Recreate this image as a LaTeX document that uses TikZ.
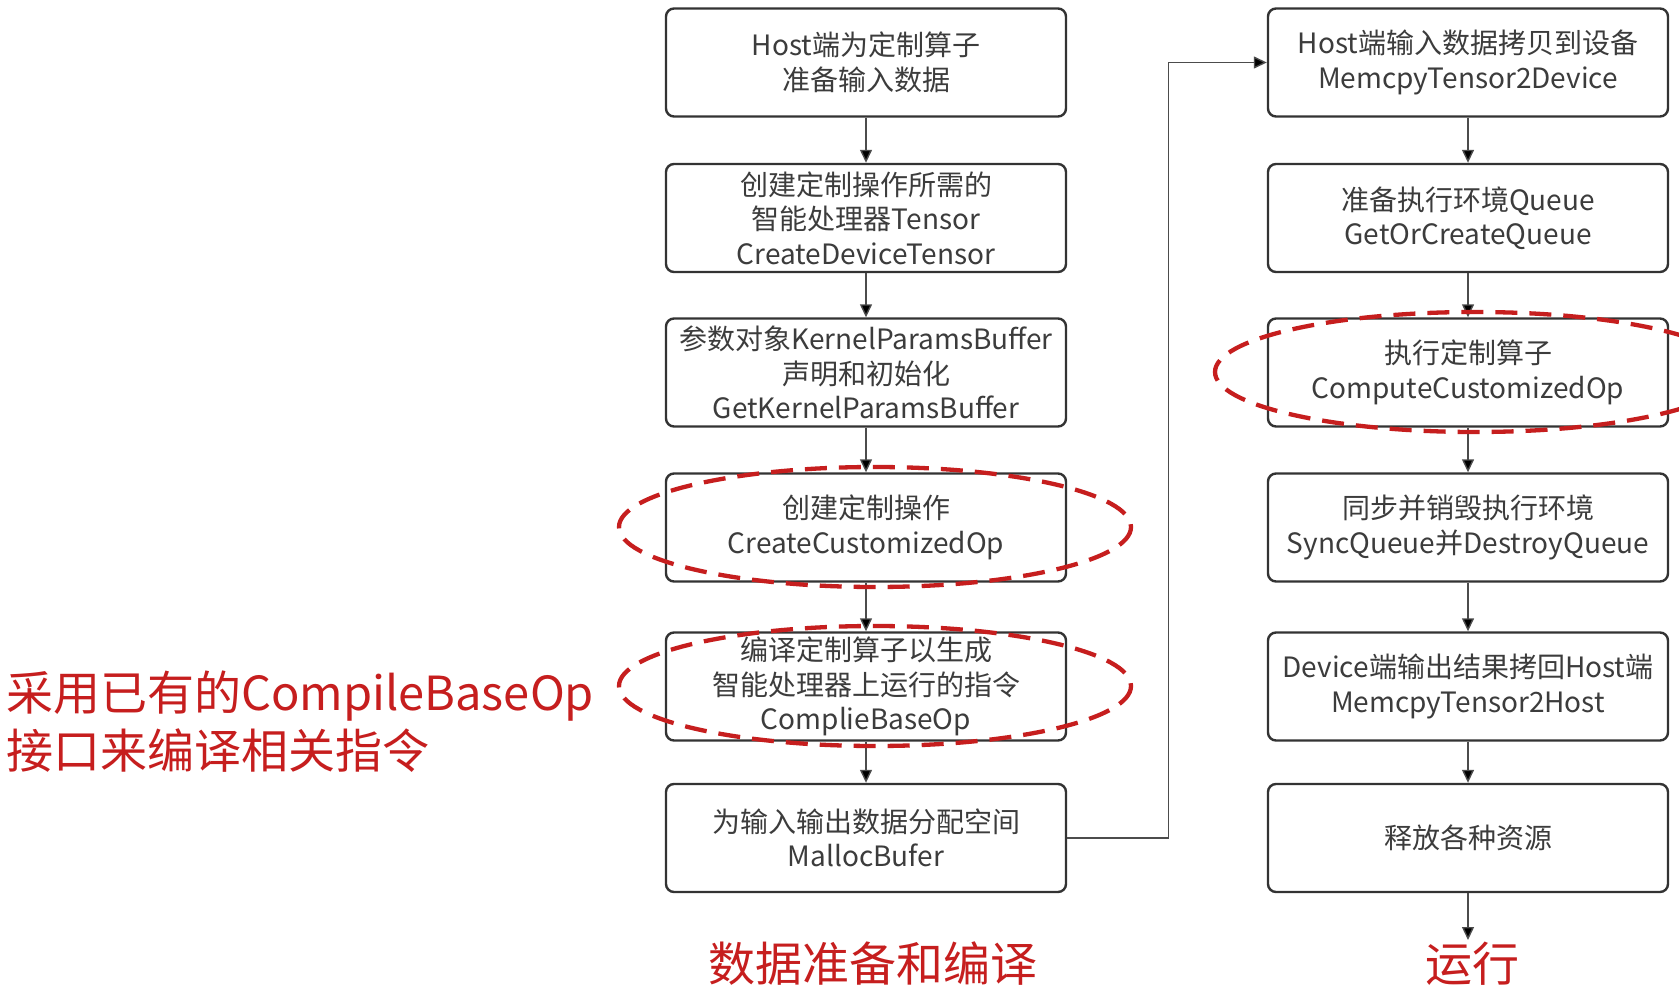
\documentclass[tikz,border=0pt]{standalone}
\usepackage{fontspec}
\newfontfamily\cjk{Noto Sans CJK SC}
\usetikzlibrary{arrows.meta}
\definecolor{boxtext}{HTML}{3C3C3C}
\definecolor{boxline}{HTML}{333333}
\definecolor{annred}{RGB}{198,30,30}
\tikzset{
  stepbox/.style={draw=boxline, line width=2.4pt, rounded corners=8pt, fill=white,
    minimum width=400pt, minimum height=108pt, align=center, inner sep=0pt,
    text=boxtext, font={\cjk\fontsize{28}{34.5}\selectfont}},
  arr/.style={draw=black!70, line width=1.4pt, -{Triangle[length=13pt,width=12pt,fill=black]}},
  hilite/.style={draw=annred, line width=4.3pt, dash pattern=on 22pt off 12pt},
  bigred/.style={text=annred, font={\cjk\fontsize{47}{56}\selectfont}, inner sep=0pt}
}
\begin{document}
\begin{tikzpicture}[x=1pt,y=-1pt]
\useasboundingbox[fill=white] (0,0) rectangle (1679,995);
% left column
\node[stepbox] (l1) at (866,62.5) {Host端为定制算子\\准备输入数据};
\node[stepbox] (l2) at (866,218) {创建定制操作所需的\\智能处理器Tensor\\CreateDeviceTensor};
\node[stepbox] (l3) at (866,372.5) {参数对象KernelParamsBuffer\\声明和初始化\\GetKernelParamsBuffer};
\node[stepbox] (l4) at (866,527.5) {创建定制操作\\CreateCustomizedOp};
\node[stepbox] (l5) at (866,686.5) {编译定制算子以生成\\智能处理器上运行的指令\\ComplieBaseOp};
\node[stepbox] (l6) at (866,838) {为输入输出数据分配空间\\MallocBufer};
% right column
\node[stepbox] (r1) at (1468,62.5) {Host端输入数据拷贝到设备\\MemcpyTensor2Device};
\node[stepbox] (r2) at (1468,218) {准备执行环境Queue\\GetOrCreateQueue};
\node[stepbox] (r3) at (1468,372.5) {执行定制算子\\ComputeCustomizedOp};
\node[stepbox] (r4) at (1468,527.5) {同步并销毁执行环境\\SyncQueue并DestroyQueue};
\node[stepbox] (r5) at (1468,686.5) {Device端输出结果拷回Host端\\MemcpyTensor2Host};
\node[stepbox] (r6) at (1468,838) {释放各种资源};
\coordinate (rend) at (1468,940);
% connectors
\draw[arr] (l1) -- (l2);
\draw[arr] (l2) -- (l3);
\draw[arr] (l3) -- (l4);
\draw[arr] (l4) -- (l5);
\draw[arr] (l5) -- (l6);
\draw[arr] (l6.east) -- ++(101,0) |- (r1.west);
\draw[arr] (r1) -- (r2);
\draw[arr] (r2) -- (r3);
\draw[arr] (r3) -- (r4);
\draw[arr] (r4) -- (r5);
\draw[arr] (r5) -- (r6);
\draw[arr] (r6) -- (rend);
% highlights
\draw[hilite] (875,527) ellipse [x radius=256, y radius=60];
\draw[hilite] (875,686) ellipse [x radius=256, y radius=60];
\draw[hilite] (1475,372) ellipse [x radius=260, y radius=60];
% labels
\node[bigred, anchor=west] (note1) at (6,696) {采用已有的CompileBaseOp};
\node[bigred, anchor=west] (note2) at (6,751) {接口来编译相关指令};
\node[bigred] (cap1) at (873,964) {数据准备和编译};
\node[bigred] (cap2) at (1472,964) {运行};
\end{tikzpicture}
\end{document}
